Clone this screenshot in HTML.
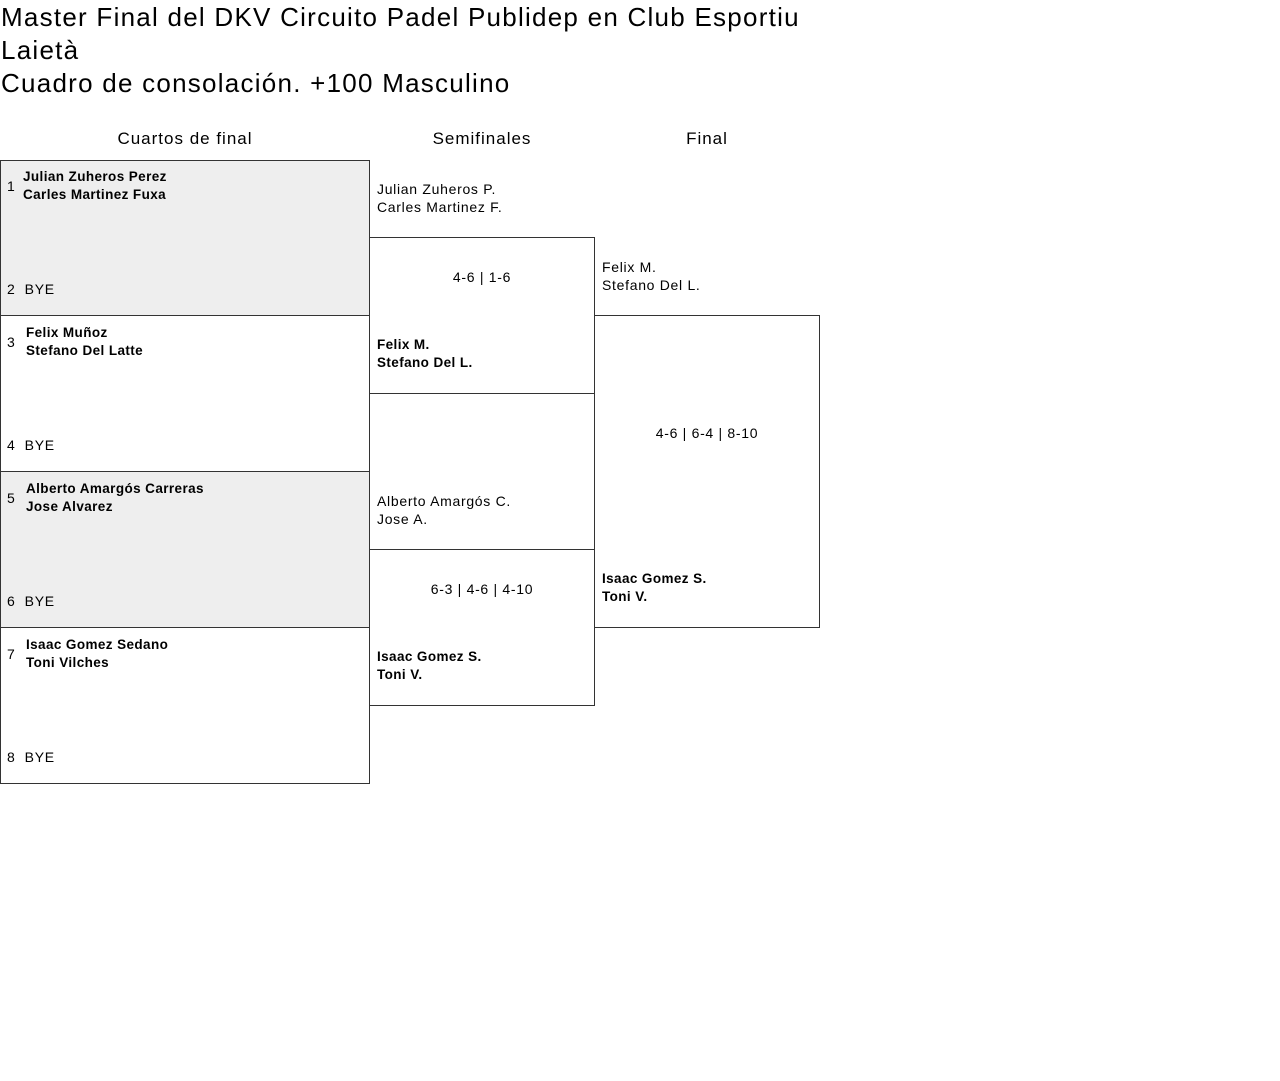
<!DOCTYPE html>
<html><head><meta charset="utf-8"><style>
body{margin:0;width:1280px;height:1081px;background:#fff;font-family:"Liberation Sans",sans-serif;color:#000;position:relative;overflow:hidden}
.a{position:absolute;white-space:nowrap}
h1{position:absolute;left:1px;top:1px;margin:0;font-size:26px;font-weight:normal;line-height:33px;letter-spacing:1.25px}
.box{position:absolute;border:1px solid #333;box-sizing:border-box}
.t{font-size:14px;line-height:18px;letter-spacing:0.7px}
.b{font-weight:bold;font-size:13.5px;letter-spacing:0.4px}
.h{font-size:17px;width:200px;text-align:center;letter-spacing:1px;top:129px}
</style></head><body>
<h1>Master Final del DKV Circuito Padel Publidep en Club Esportiu<br>Laietà<br>Cuadro de consolación. +100 Masculino</h1>
<div class="a h" style="left:85px">Cuartos de final</div>
<div class="a h" style="left:382px">Semifinales</div>
<div class="a h" style="left:607px">Final</div>

<div class="box" style="left:0;top:160px;width:370px;height:156px;background:#eee"></div>
<div class="box" style="left:0;top:315px;width:370px;height:157px"></div>
<div class="box" style="left:0;top:471px;width:370px;height:157px;background:#eee"></div>
<div class="box" style="left:0;top:627px;width:370px;height:157px"></div>

<div class="box" style="left:369px;top:237px;width:226px;height:157px"></div>
<div class="box" style="left:369px;top:549px;width:226px;height:157px"></div>
<div class="box" style="left:594px;top:315px;width:226px;height:313px"></div>

<div class="a t" style="left:7px;top:177px">1</div>
<div class="a t b" style="left:23px;top:168px">Julian Zuheros Perez<br>Carles Martinez Fuxa</div>
<div class="a t" style="left:7px;top:280px">2&nbsp;&nbsp;BYE</div>
<div class="a t" style="left:7px;top:333px">3</div>
<div class="a t b" style="left:26px;top:324px">Felix Muñoz<br>Stefano Del Latte</div>
<div class="a t" style="left:7px;top:436px">4&nbsp;&nbsp;BYE</div>
<div class="a t" style="left:7px;top:489px">5</div>
<div class="a t b" style="left:26px;top:480px">Alberto Amargós Carreras<br>Jose Alvarez</div>
<div class="a t" style="left:7px;top:592px">6&nbsp;&nbsp;BYE</div>
<div class="a t" style="left:7px;top:645px">7</div>
<div class="a t b" style="left:26px;top:636px">Isaac Gomez Sedano<br>Toni Vilches</div>
<div class="a t" style="left:7px;top:748px">8&nbsp;&nbsp;BYE</div>

<div class="a t" style="left:377px;top:180px">Julian Zuheros P.<br>Carles Martinez F.</div>
<div class="a t" style="left:369px;top:268px;width:226px;text-align:center">4-6 | 1-6</div>
<div class="a t b" style="left:377px;top:336px">Felix M.<br>Stefano Del L.</div>
<div class="a t" style="left:377px;top:492px">Alberto Amargós C.<br>Jose A.</div>
<div class="a t" style="left:369px;top:580px;width:226px;text-align:center">6-3 | 4-6 | 4-10</div>
<div class="a t b" style="left:377px;top:648px">Isaac Gomez S.<br>Toni V.</div>

<div class="a t" style="left:602px;top:258px">Felix M.<br>Stefano Del L.</div>
<div class="a t" style="left:594px;top:424px;width:226px;text-align:center">4-6 | 6-4 | 8-10</div>
<div class="a t b" style="left:602px;top:570px">Isaac Gomez S.<br>Toni V.</div>
</body></html>
